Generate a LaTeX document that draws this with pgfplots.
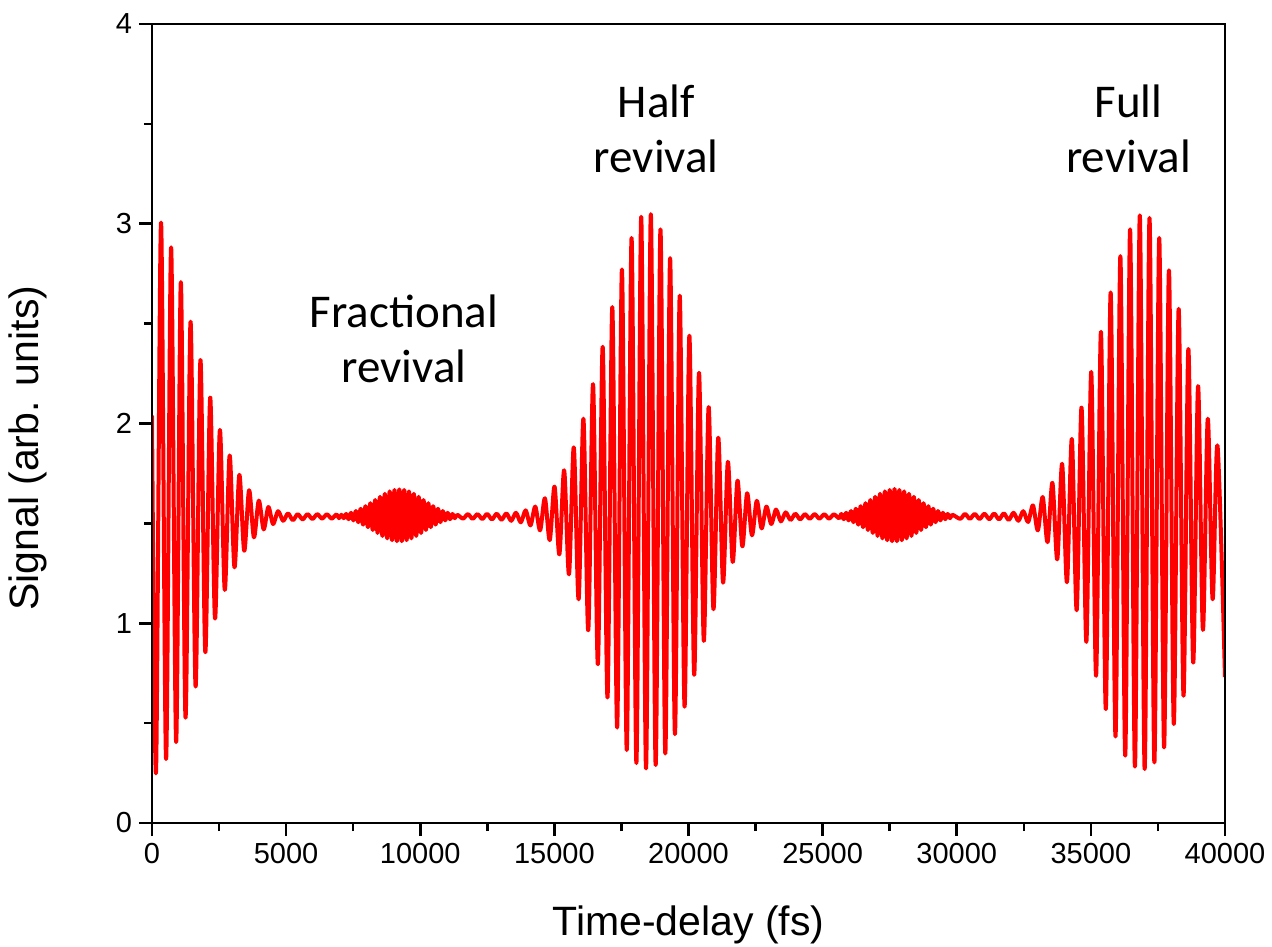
\documentclass[border=0pt]{standalone}
\usepackage{fontspec}
\setmainfont{Liberation Sans}
\newfontfamily\calfont{Carlito}
\usepackage{pgfplots}
\usepackage{pgfplotstable}
\pgfplotsset{compat=1.18}
\pgfplotstableread[row sep=\\]{
t v\\
0 2.04\\ 150 0.255\\ 337 3.006\\ 525 0.32\\ 712 2.882\\ 900 0.405\\ 1075 2.708\\ 1250 0.527\\
1437 2.51\\ 1625 0.683\\ 1806 2.318\\ 1988 0.855\\ 2169 2.13\\ 2350 1.023\\ 2531 1.968\\ 2713 1.167\\
2894 1.84\\ 3075 1.28\\ 3256 1.743\\ 3438 1.363\\ 3619 1.666\\ 3800 1.43\\ 3981 1.614\\ 4163 1.47\\
4338 1.582\\ 4513 1.497\\ 4700 1.561\\ 4888 1.513\\ 5069 1.55\\ 5250 1.516\\ 5432 1.546\\ 5615 1.52\\
5797 1.546\\ 5980 1.522\\ 6160 1.546\\ 6340 1.524\\ 6520 1.545\\ 6700 1.524\\ 6880 1.545\\ 6970 1.526\\
7060 1.543\\ 7150 1.526\\ 7240 1.547\\ 7330 1.521\\ 7420 1.553\\ 7510 1.515\\ 7600 1.562\\ 7690 1.506\\
7780 1.573\\ 7870 1.494\\ 7960 1.586\\ 8050 1.481\\ 8140 1.601\\ 8230 1.467\\ 8320 1.617\\ 8410 1.452\\
8500 1.633\\ 8590 1.437\\ 8680 1.648\\ 8770 1.425\\ 8860 1.660\\ 8950 1.416\\ 9040 1.667\\ 9130 1.411\\
9220 1.670\\ 9310 1.411\\ 9400 1.667\\ 9490 1.416\\ 9580 1.660\\ 9670 1.425\\ 9760 1.648\\ 9850 1.437\\
9940 1.633\\ 10030 1.452\\ 10120 1.617\\ 10210 1.467\\ 10300 1.601\\ 10390 1.481\\ 10480 1.586\\ 10570 1.494\\
10660 1.573\\ 10750 1.506\\ 10840 1.562\\ 10930 1.515\\ 11020 1.553\\ 11110 1.521\\ 11200 1.547\\ 11290 1.526\\
11380 1.543\\ 11595 1.524\\ 11775 1.546\\ 11954 1.523\\ 12134 1.546\\ 12313 1.522\\ 12493 1.547\\ 12673 1.520\\
12852 1.548\\ 13032 1.518\\ 13211 1.550\\ 13391 1.513\\ 13570 1.553\\ 13750 1.505\\ 13929 1.565\\ 14109 1.490\\
14288 1.584\\ 14468 1.465\\ 14647 1.626\\ 14827 1.416\\ 15006 1.684\\ 15186 1.345\\ 15365 1.766\\ 15545 1.245\\
15724 1.881\\ 15904 1.120\\ 16083 2.024\\ 16263 0.965\\ 16442 2.197\\ 16622 0.795\\ 16801 2.384\\ 16981 0.628\\
17160 2.583\\ 17340 0.478\\ 17519 2.771\\ 17699 0.365\\ 17878 2.929\\ 18058 0.300\\ 18237 3.035\\ 18417 0.273\\
18596 3.048\\ 18776 0.290\\ 18955 2.972\\ 19135 0.348\\ 19314 2.828\\ 19494 0.445\\ 19673 2.640\\ 19853 0.582\\
20032 2.440\\ 20212 0.742\\ 20391 2.254\\ 20571 0.912\\ 20750 2.082\\ 20930 1.070\\ 21109 1.929\\ 21289 1.203\\
21468 1.808\\ 21648 1.307\\ 21827 1.714\\ 22007 1.385\\ 22186 1.651\\ 22366 1.440\\ 22545 1.613\\ 22725 1.475\\
22904 1.584\\ 23084 1.497\\ 23263 1.569\\ 23443 1.510\\ 23622 1.555\\ 23802 1.517\\ 23981 1.548\\ 24161 1.520\\
24340 1.546\\ 24520 1.523\\ 24700 1.546\\ 24880 1.524\\ 25060 1.545\\ 25240 1.524\\ 25420 1.545\\
25610 1.526\\ 25700 1.547\\ 25790 1.521\\ 25880 1.553\\ 25970 1.515\\ 26060 1.562\\ 26150 1.506\\ 26240 1.573\\
26330 1.494\\ 26420 1.586\\ 26510 1.481\\ 26600 1.601\\ 26690 1.467\\ 26780 1.617\\ 26870 1.452\\ 26960 1.633\\
27050 1.437\\ 27140 1.648\\ 27230 1.425\\ 27320 1.660\\ 27410 1.416\\ 27500 1.667\\ 27590 1.411\\ 27680 1.672\\
27770 1.411\\ 27860 1.667\\ 27950 1.416\\ 28040 1.660\\ 28130 1.425\\ 28220 1.648\\ 28310 1.437\\ 28400 1.633\\
28490 1.452\\ 28580 1.617\\ 28670 1.467\\ 28760 1.601\\ 28850 1.481\\ 28940 1.586\\ 29030 1.494\\ 29120 1.573\\
29210 1.506\\ 29300 1.562\\ 29390 1.515\\ 29480 1.553\\ 29570 1.521\\ 29660 1.547\\ 29750 1.526\\ 29840 1.543\\
30127 1.523\\ 30308 1.547\\ 30489 1.523\\ 30670 1.547\\ 30851 1.522\\ 31032 1.548\\ 31213 1.521\\ 31394 1.549\\
31575 1.520\\ 31756 1.550\\ 31937 1.517\\ 32118 1.553\\ 32299 1.513\\ 32480 1.561\\ 32661 1.507\\ 32842 1.590\\
33023 1.465\\ 33204 1.632\\ 33385 1.406\\ 33566 1.703\\ 33747 1.320\\ 33928 1.798\\ 34109 1.205\\ 34290 1.923\\
34471 1.065\\ 34652 2.080\\ 34833 0.907\\ 35014 2.258\\ 35195 0.737\\ 35376 2.459\\ 35557 0.570\\ 35738 2.656\\
35919 0.433\\ 36100 2.838\\ 36281 0.337\\ 36462 2.972\\ 36643 0.282\\ 36824 3.042\\ 37005 0.270\\ 37186 3.029\\
37367 0.303\\ 37548 2.929\\ 37729 0.378\\ 37910 2.767\\ 38091 0.495\\ 38272 2.574\\ 38453 0.637\\ 38634 2.373\\
38815 0.803\\ 38996 2.187\\ 39177 0.967\\ 39358 2.024\\ 39539 1.120\\ 39720 1.890\\ 40000 0.730\\
}\signal
\begin{document}
\begin{tikzpicture}
\path[use as bounding box] (-76bp,-62bp) rectangle (560bp,411.5bp);
\begin{axis}[
  at={(0,0)}, anchor=south west,
  width=536.5bp, height=399.5bp, scale only axis,
  xmin=0, xmax=40000, ymin=0, ymax=4,
  xtick={0,5000,...,40000},
  minor xtick={2500,7500,...,37500},
  ytick={0,1,2,3,4},
  minor ytick={0.5,1.5,2.5,3.5},
  tick pos=left,
  tick align=outside,
  major tick length=6.5bp,
  minor tick length=4bp,
  axis line style={line width=1.3bp},
  every tick/.style={black, line width=1.3bp},
  ticklabel style={font=\fontsize{14.5bp}{16bp}\selectfont},
  /pgf/number format/assume math mode=true,
  /pgf/number format/set thousands separator={},
  scaled x ticks=false,
  xlabel={Time-delay (fs)},
  ylabel={Signal (arb. units)},
  label style={font=\fontsize{20.5bp}{24bp}\selectfont},
  xlabel style={at={(axis description cs:0.5,-0.1277)}, anchor=center},
  ylabel style={at={(axis description cs:-0.1156,0.469)}, anchor=center},
  axis on top,
]
\addplot[red, line width=2bp, smooth, line join=round] table[x=t, y=v] {\signal};
\node[font=\calfont\fontsize{23.5bp}{27.5bp}\selectfont, align=center] at (axis cs:9390,2.425) {Fractional\\revival};
\node[font=\calfont\fontsize{23.5bp}{27.5bp}\selectfont, align=center] at (axis cs:18800,3.475) {Half\\revival};
\node[font=\calfont\fontsize{23.5bp}{27.5bp}\selectfont, align=center] at (axis cs:36400,3.475) {Full\\revival};
\end{axis}
\end{tikzpicture}
\end{document}
